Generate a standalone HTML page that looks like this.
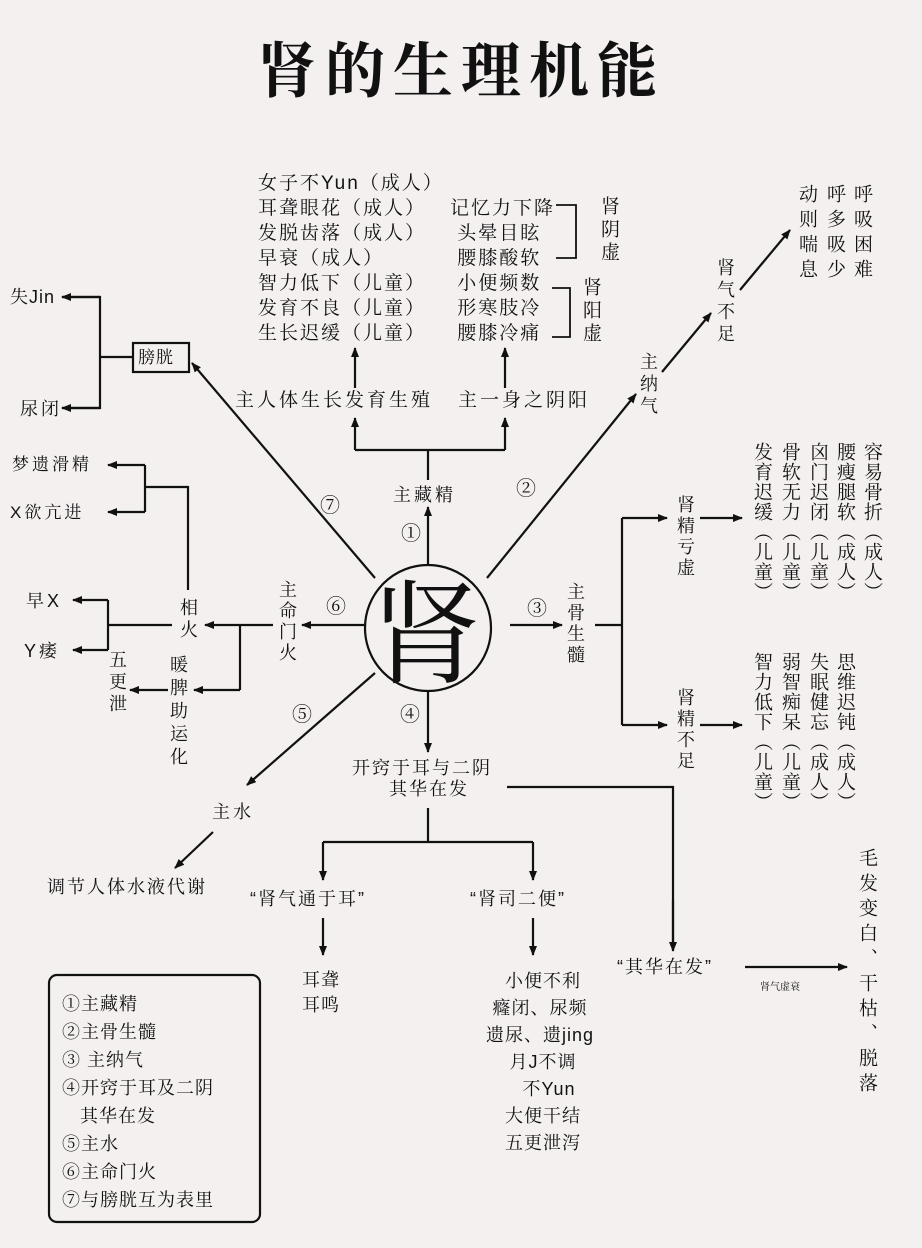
<!DOCTYPE html>
<html><head><meta charset="utf-8"><style>
html,body{margin:0;padding:0}
body{width:922px;height:1248px;background:#f3f0ef;position:relative;overflow:hidden;font-family:"Liberation Sans","Noto Serif CJK SC","Noto Sans CJK SC",serif;color:#111}
.t{position:absolute;font-size:19px;line-height:19px;white-space:nowrap;letter-spacing:3px}
.v{position:absolute;font-size:19px;writing-mode:vertical-rl;letter-spacing:7px;line-height:19px;white-space:nowrap}
svg{position:absolute;left:0;top:0}
</style></head><body>
<svg width="922" height="1248" viewBox="0 0 922 1248">
<defs><marker id="a" markerWidth="10" markerHeight="8" refX="9" refY="4" orient="auto" markerUnits="userSpaceOnUse"><path d="M0,0 L10,4 L0,8 z" fill="#111"/></marker></defs>
<g stroke="#111" stroke-width="2.2" fill="none">
<circle cx="428" cy="628" r="63"/>
<!-- up -->
<line x1="428" y1="565" x2="428" y2="507" marker-end="url(#a)"/>
<polyline points="428,480 428,450"/>
<polyline points="355,450 505,450"/>
<line x1="355" y1="450" x2="355" y2="418" marker-end="url(#a)"/>
<line x1="505" y1="450" x2="505" y2="418" marker-end="url(#a)"/>
<line x1="355" y1="388" x2="355" y2="348" marker-end="url(#a)"/>
<line x1="505" y1="388" x2="505" y2="348" marker-end="url(#a)"/>
<polyline points="556,205 576,205 576,258 556,258" stroke-width="1.8"/>
<polyline points="552,288 570,288 570,337 552,337" stroke-width="1.8"/>
<!-- 7 -->
<line x1="375" y1="578" x2="192" y2="363" marker-end="url(#a)"/>
<rect x="133" y="343" width="56" height="29"/>
<polyline points="133,357 100,357"/>
<polyline points="62,297 100,297 100,408 62,408"/>
<line x1="100" y1="297" x2="62" y2="297" marker-end="url(#a)"/>
<line x1="100" y1="408" x2="62" y2="408" marker-end="url(#a)"/>
<!-- 6 -->
<line x1="364" y1="625" x2="302" y2="625" marker-end="url(#a)"/>
<line x1="273" y1="625" x2="205" y2="625" marker-end="url(#a)"/>
<polyline points="240,625 240,690"/>
<line x1="240" y1="690" x2="194" y2="690" marker-end="url(#a)"/>
<line x1="168" y1="690" x2="130" y2="690" marker-end="url(#a)"/>
<polyline points="188,590 188,487 145,487"/>
<polyline points="145,465 145,512"/>
<line x1="145" y1="465" x2="108" y2="465" marker-end="url(#a)"/>
<line x1="145" y1="512" x2="108" y2="512" marker-end="url(#a)"/>
<polyline points="172,625 108,625"/>
<polyline points="108,600 108,650"/>
<line x1="108" y1="600" x2="73" y2="600" marker-end="url(#a)"/>
<line x1="108" y1="650" x2="73" y2="650" marker-end="url(#a)"/>
<!-- 5 -->
<line x1="375" y1="673" x2="247" y2="785" marker-end="url(#a)"/>
<line x1="213" y1="832" x2="175" y2="868" marker-end="url(#a)"/>
<!-- 4 -->
<line x1="428" y1="692" x2="428" y2="752" marker-end="url(#a)"/>
<polyline points="507,787 673,787 673,950"/>
<line x1="673" y1="900" x2="673" y2="951" marker-end="url(#a)"/>
<polyline points="428,808 428,842"/>
<polyline points="323,842 533,842"/>
<line x1="323" y1="842" x2="323" y2="880" marker-end="url(#a)"/>
<line x1="533" y1="842" x2="533" y2="880" marker-end="url(#a)"/>
<line x1="323" y1="918" x2="323" y2="955" marker-end="url(#a)"/>
<line x1="533" y1="918" x2="533" y2="955" marker-end="url(#a)"/>
<line x1="745" y1="967" x2="847" y2="967" marker-end="url(#a)"/>
<!-- 2 -->
<line x1="487" y1="578" x2="636" y2="394" marker-end="url(#a)"/>
<line x1="662" y1="372" x2="711" y2="313" marker-end="url(#a)"/>
<line x1="740" y1="290" x2="790" y2="230" marker-end="url(#a)"/>
<!-- 3 -->
<line x1="510" y1="625" x2="562" y2="625" marker-end="url(#a)"/>
<polyline points="595,625 622,625"/>
<polyline points="622,518 622,725"/>
<line x1="622" y1="518" x2="667" y2="518" marker-end="url(#a)"/>
<line x1="622" y1="725" x2="667" y2="725" marker-end="url(#a)"/>
<line x1="700" y1="518" x2="742" y2="518" marker-end="url(#a)"/>
<line x1="700" y1="725" x2="742" y2="725" marker-end="url(#a)"/>
<rect x="49" y="975" width="211" height="247" rx="8"/>
</g>
</svg>
<div class="t" style="left:257px;top:36px;font-size:60px;line-height:62px;font-weight:bold;letter-spacing:8px;font-family:'Noto Serif CJK SC',serif">肾的生理机能</div>
<div class="t" style="left:370px;top:568px;font-size:112px;line-height:118px;letter-spacing:0;font-family:'Noto Serif CJK SC',serif">肾</div>

<div class="t" style="left:258px;top:171px;line-height:25px;letter-spacing:2px">女子不Yun（成人）<br>耳聋眼花（成人）<br>发脱齿落（成人）<br>早衰（成人）<br>智力低下（儿童）<br>发育不良（儿童）<br>生长迟缓（儿童）</div>
<div class="t" style="left:450px;top:196px;line-height:25px;letter-spacing:2px">记忆力下降<br>&nbsp;头晕目眩<br>&nbsp;腰膝酸软<br>&nbsp;小便频数<br>&nbsp;形寒肢冷<br>&nbsp;腰膝冷痛</div>
<div class="v" style="left:599px;top:196px;letter-spacing:4px">肾阴虚</div>
<div class="v" style="left:581px;top:277px;letter-spacing:4px">肾阳虚</div>
<div class="t" style="left:235px;top:391px">主人体生长发育生殖</div>
<div class="t" style="left:458px;top:391px">主一身之阴阳</div>
<div class="t" style="left:393px;top:486px;font-size:18px">主藏精</div>
<div class="t" style="left:401px;top:525px;font-size:20px">①</div>
<div class="t" style="left:516px;top:480px;font-size:20px">②</div>
<div class="t" style="left:527px;top:600px;font-size:20px">③</div>
<div class="t" style="left:400px;top:706px;font-size:20px">④</div>
<div class="t" style="left:292px;top:706px;font-size:20px">⑤</div>
<div class="t" style="left:326px;top:598px;font-size:20px">⑥</div>
<div class="t" style="left:320px;top:497px;font-size:20px">⑦</div>

<div class="t" style="left:138px;top:348px;font-size:17px;letter-spacing:1px">膀胱</div>
<div class="t" style="left:10px;top:288px;font-size:18px;letter-spacing:1px">失Jin</div>
<div class="t" style="left:20px;top:400px;font-size:18px">尿闭</div>
<div class="t" style="left:12px;top:455px;font-size:17px">梦遗滑精</div>
<div class="t" style="left:10px;top:503px;font-size:17px">X欲亢进</div>
<div class="t" style="left:26px;top:592px;font-size:18px">早X</div>
<div class="t" style="left:24px;top:642px;font-size:18px">Y痿</div>
<div class="v" style="left:178px;top:598px;font-size:18px;letter-spacing:4px">相火</div>
<div class="v" style="left:277px;top:580px;font-size:18px;letter-spacing:3px">主命门火</div>
<div class="v" style="left:168px;top:655px;font-size:18px;letter-spacing:5px">暖脾助运化</div>
<div class="v" style="left:107px;top:650px;font-size:18px;letter-spacing:4px">五更泄</div>
<div class="t" style="left:212px;top:803px;font-size:18px">主水</div>
<div class="t" style="left:47px;top:878px;font-size:18px;letter-spacing:2px">调节人体水液代谢</div>

<div class="t" style="left:352px;top:759px;font-size:18px;letter-spacing:2px">开窍于耳与二阴</div>
<div class="t" style="left:389px;top:780px;font-size:18px;letter-spacing:2px">其华在发</div>
<div class="t" style="left:250px;top:890px;font-size:18px;letter-spacing:2px">“肾气通于耳”</div>
<div class="t" style="left:470px;top:890px;font-size:18px;letter-spacing:2px">“肾司二便”</div>
<div class="t" style="left:302px;top:968px;font-size:18px;line-height:25px;letter-spacing:1px">耳聋<br>耳鸣</div>
<div class="t" style="left:480px;top:968px;font-size:18px;line-height:27px;letter-spacing:1px;text-align:center">&nbsp;&nbsp;小便不利<br>&nbsp;癃闭、尿频<br>&nbsp;遗尿、遗jing<br>&nbsp;&nbsp;月J不调<br>&nbsp;&nbsp;&nbsp;&nbsp;不Yun<br>&nbsp;&nbsp;大便干结<br>&nbsp;&nbsp;五更泄泻</div>
<div class="t" style="left:617px;top:958px;font-size:18px;letter-spacing:2px">“其华在发”</div>
<div class="t" style="left:760px;top:978px;font-size:10px;letter-spacing:0">肾气虚衰</div>
<div class="v" style="left:857px;top:848px;font-size:19px;letter-spacing:6px;height:230px">毛发变白、干枯、脱落</div>

<div class="v" style="left:638px;top:352px;font-size:18px;letter-spacing:4px">主纳气</div>
<div class="v" style="left:715px;top:258px;font-size:18px;letter-spacing:4px">肾气不足</div>
<div class="v" style="left:797px;top:184px;font-size:19px;letter-spacing:6px">动则喘息</div>
<div class="v" style="left:825px;top:184px;font-size:19px;letter-spacing:6px">呼多吸少</div>
<div class="v" style="left:852px;top:184px;font-size:19px;letter-spacing:6px">呼吸困难</div>

<div class="v" style="left:565px;top:582px;font-size:18px;letter-spacing:3px">主骨生髓</div>
<div class="v" style="left:675px;top:495px;font-size:18px;letter-spacing:3px">肾精亏虚</div>
<div class="v" style="left:675px;top:688px;font-size:18px;letter-spacing:3px">肾精不足</div>
<div class="v" style="left:752px;top:442px;letter-spacing:1px">发育迟缓（儿童）</div>
<div class="v" style="left:780px;top:442px;letter-spacing:1px">骨软无力（儿童）</div>
<div class="v" style="left:808px;top:442px;letter-spacing:1px">囟门迟闭（儿童）</div>
<div class="v" style="left:835px;top:442px;letter-spacing:1px">腰瘦腿软（成人）</div>
<div class="v" style="left:862px;top:442px;letter-spacing:1px">容易骨折（成人）</div>
<div class="v" style="left:752px;top:652px;letter-spacing:1px">智力低下（儿童）</div>
<div class="v" style="left:780px;top:652px;letter-spacing:1px">弱智痴呆（儿童）</div>
<div class="v" style="left:808px;top:652px;letter-spacing:1px">失眠健忘（成人）</div>
<div class="v" style="left:835px;top:652px;letter-spacing:1px">思维迟钝（成人）</div>

<div class="t" style="left:62px;top:990px;font-size:18px;line-height:28px;letter-spacing:1px">①主藏精<br>②主骨生髓<br>③ 主纳气<br>④开窍于耳及二阴<br>&nbsp;&nbsp;&nbsp;其华在发<br>⑤主水<br>⑥主命门火<br>⑦与膀胱互为表里</div>
</body></html>
